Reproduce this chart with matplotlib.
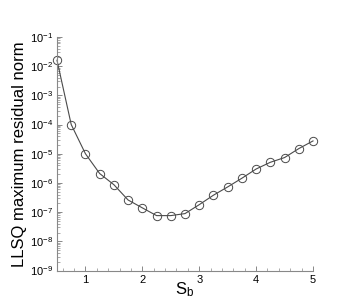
import numpy as np
import matplotlib
matplotlib.use("Agg")
import matplotlib.pyplot as plt
from matplotlib.ticker import MultipleLocator, LogLocator, FixedLocator

plt.rcParams['font.family'] = ['Liberation Sans', 'DejaVu Sans']
plt.rcParams['mathtext.default'] = 'regular'

# LLSQ residual norm vs S_b
s_b = [0.5, 0.75, 1.0, 1.25, 1.5, 1.75, 2.0, 2.25, 2.5, 2.75,
       3.0, 3.25, 3.5, 3.75, 4.0, 4.25, 4.5, 4.75, 5.0]
residual = [1.6e-2, 1.0e-4, 1.0e-5, 2.1e-6, 8.7e-7, 2.6e-7, 1.4e-7, 7.6e-8, 7.6e-8, 8.9e-8,
            1.8e-7, 3.8e-7, 7.3e-7, 1.45e-6, 3.0e-6, 5.1e-6, 7.4e-6, 1.5e-5, 2.75e-5]
x_ticks = [1, 2, 3, 4, 5]
y_exponents = [-9, -8, -7, -6, -5, -4, -3, -2, -1]

fig = plt.figure(figsize=(3.43, 3.05), dpi=100)
ax = fig.add_axes([57 / 343, 1 - 270.5 / 305, 256 / 343, 233.5 / 305])

ax.plot(s_b, residual, color='#4a4a4a', lw=0.8, marker='o', ms=6,
        mfc='none', mec='#4a4a4a', mew=0.7, clip_on=False)

ax.set_yscale('log')
ax.set_xlim(0.5, 5)
ax.set_ylim(1e-9, 1e-1)
ax.xaxis.set_major_locator(FixedLocator(x_ticks))
ax.xaxis.set_minor_locator(MultipleLocator(0.2))
ax.yaxis.set_major_locator(FixedLocator([10.0 ** e for e in y_exponents]))
ax.yaxis.set_minor_locator(LogLocator(base=10, subs=np.arange(2, 10), numticks=20))

for side in ['top', 'right']:
    ax.spines[side].set_visible(False)
for side in ['left', 'bottom']:
    ax.spines[side].set_color('#888888')
    ax.spines[side].set_linewidth(0.8)

ax.tick_params(which='both', direction='in', color='#888888', labelsize=8, pad=3)
ax.tick_params(which='major', length=3.5, width=0.7)
ax.tick_params(which='minor', length=2, width=0.5)

ax.set_xlabel('S$_b$', fontsize=12, labelpad=-3)
ax.set_ylabel('LLSQ maximum residual norm', fontsize=12, labelpad=2)

fig.savefig('out.png', dpi=100)
